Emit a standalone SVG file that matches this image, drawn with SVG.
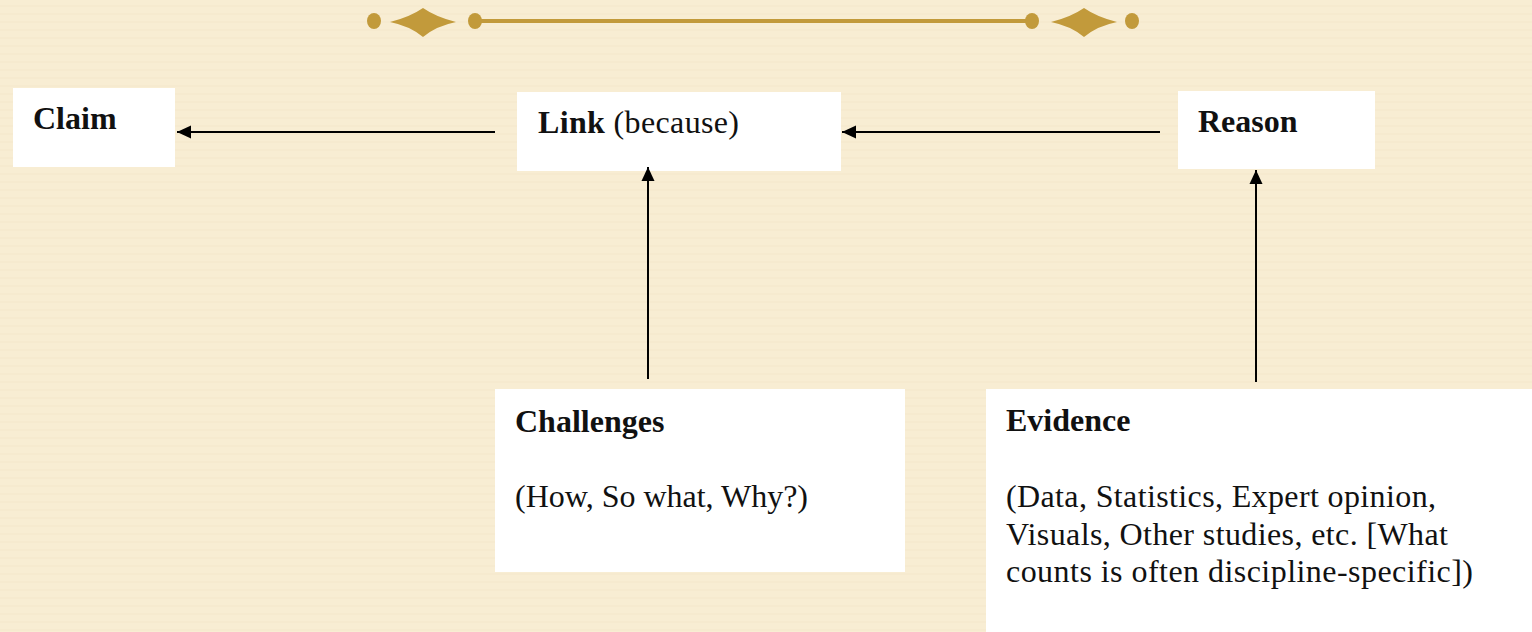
<svg xmlns="http://www.w3.org/2000/svg" width="1532" height="632" viewBox="0 0 1532 632">
  <defs>
    <pattern id="stripes" x="0" y="0" width="1532" height="8" patternUnits="userSpaceOnUse">
      <rect x="0" y="0" width="1532" height="8" fill="#F8EDD3"/>
      <rect x="0" y="5" width="1532" height="2" fill="#F3E6C8" opacity="0.4"/>
    </pattern>
    <marker id="arrow" markerUnits="userSpaceOnUse" markerWidth="15" markerHeight="15" refX="14" refY="7.5" orient="auto">
      <path d="M0,1 L14,7.5 L0,14 Z" fill="#000"/>
    </marker>
  </defs>
  <style>
    .box { fill: #FFFFFF; }
    .t { font-family: "Liberation Serif", "Times New Roman", serif; font-size: 32px; fill: #111; }
    .b { font-weight: bold; }
    .conn { stroke: #000; stroke-width: 2; fill: none; marker-end: url(#arrow); }
    .gold { fill: #C29A3B; }
  </style>

  <rect x="0" y="0" width="1532" height="632" fill="url(#stripes)"/>

  <g id="ornament">
    <ellipse class="gold" cx="374" cy="21" rx="7" ry="8"/>
    <path class="gold" d="M390,22 Q410,17 423,8 Q436,17 456,22 Q436,26 423,37 Q410,26 390,22 Z"/>
    <ellipse class="gold" cx="475" cy="21" rx="7" ry="8"/>
    <rect class="gold" x="475" y="19" width="557" height="4"/>
    <ellipse class="gold" cx="1032" cy="21" rx="7" ry="8"/>
    <path class="gold" d="M1051,22 Q1071,17 1084,8 Q1097,17 1117,22 Q1097,26 1084,37 Q1071,26 1051,22 Z"/>
    <ellipse class="gold" cx="1132" cy="21" rx="7" ry="8"/>
  </g>

  <g id="claim">
    <rect class="box" x="13" y="88" width="162" height="79"/>
    <text class="t b" x="33" y="129">Claim</text>
  </g>

  <g id="link">
    <rect class="box" x="517" y="92" width="324" height="79"/>
    <text class="t" x="538" y="133" textLength="201" lengthAdjust="spacing"><tspan class="b">Link</tspan> (because)</text>
  </g>

  <g id="reason">
    <rect class="box" x="1178" y="91" width="197" height="78"/>
    <text class="t b" x="1198" y="132">Reason</text>
  </g>

  <g id="challenges">
    <rect class="box" x="495" y="389" width="410" height="183"/>
    <text class="t b" x="515" y="432">Challenges</text>
    <text class="t" x="515" y="507" textLength="293" lengthAdjust="spacing">(How, So what, Why?)</text>
  </g>

  <g id="evidence">
    <rect class="box" x="986" y="389" width="546" height="243"/>
    <text class="t b" x="1006" y="431">Evidence</text>
    <text class="t" x="1006" y="507" textLength="430" lengthAdjust="spacing">(Data, Statistics, Expert opinion,</text>
    <text class="t" x="1006" y="545" textLength="442" lengthAdjust="spacing">Visuals, Other studies, etc. [What</text>
    <text class="t" x="1006" y="582" textLength="467" lengthAdjust="spacing">counts is often discipline-specific])</text>
  </g>

  <g id="connectors">
    <line class="conn" x1="495" y1="132" x2="177" y2="132"/>
    <line class="conn" x1="1160" y1="132" x2="842" y2="132"/>
    <line class="conn" x1="648" y1="379" x2="648" y2="167"/>
    <line class="conn" x1="1256" y1="382" x2="1256" y2="170"/>
  </g>
</svg>
